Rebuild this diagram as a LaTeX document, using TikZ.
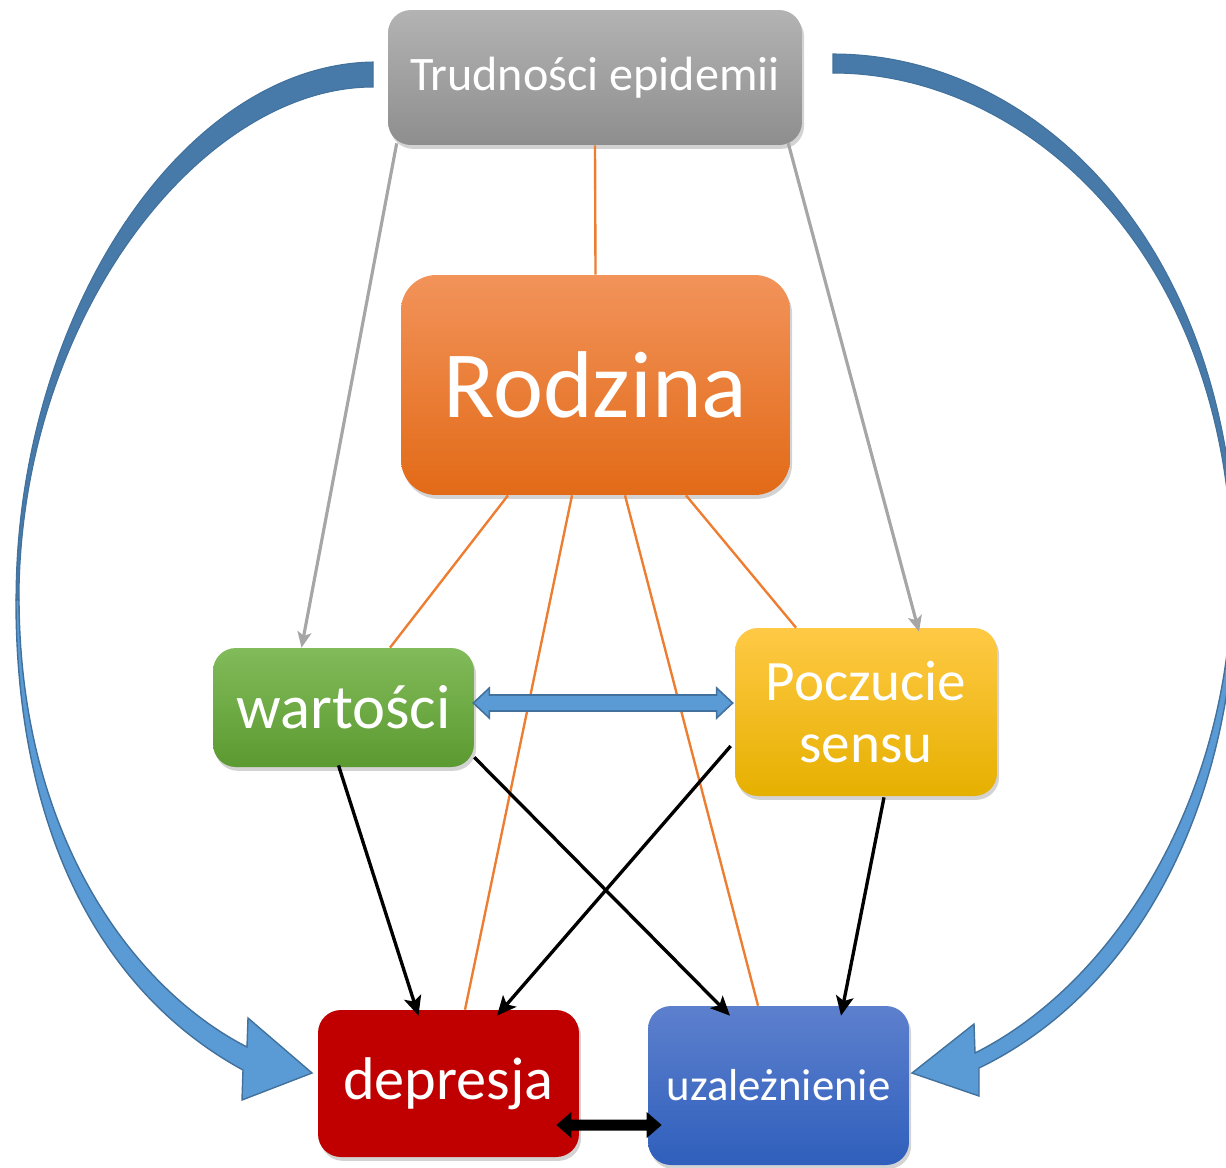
\documentclass[tikz,border=0pt]{standalone}
\usepackage{fontspec}
\setmainfont{Carlito}
\usetikzlibrary{arrows.meta,calc,shadows}
\definecolor{grayTop}{HTML}{B3B3B3}
\definecolor{grayBot}{HTML}{8E8E8E}
\definecolor{orTop}{HTML}{F2935A}
\definecolor{orBot}{HTML}{E26A17}
\definecolor{grTop}{HTML}{82BB5A}
\definecolor{grBot}{HTML}{5B9A30}
\definecolor{yeTop}{HTML}{FFC945}
\definecolor{yeMid}{HTML}{FFC000}
\definecolor{yeBot}{HTML}{E6B000}
\definecolor{redBox}{HTML}{C00000}
\definecolor{blTop}{HTML}{5D80CD}
\definecolor{blBot}{HTML}{2F5FBC}
\definecolor{arrDark}{HTML}{477AA8}
\definecolor{arrLight}{HTML}{5B9BD5}
\definecolor{arrEdge}{HTML}{41719C}
\definecolor{lineOr}{HTML}{ED7D31}
\definecolor{lineGr}{HTML}{A6A6A6}
\begin{document}
\begin{tikzpicture}[x=0.02cm,y=-0.02cm,
  boxbase/.style={rounded corners=13pt, inner sep=0pt, text=white, align=center,
    drop shadow={opacity=0.35, shadow xshift=1.2pt, shadow yshift=-2.2pt}},
  orline/.style={draw=lineOr, line width=1.35pt},
  grarrow/.style={draw=lineGr, line width=1.8pt, -{Stealth[length=9pt,width=8pt,inset=2.2pt]}},
  blkarrow/.style={draw=black, line width=1.9pt, -{Stealth[length=11pt,width=10pt,inset=2.5pt]}},
  bigdark/.style={fill=arrDark, draw=arrEdge, line width=0.6pt},
  biglight/.style={fill=arrLight, draw=arrEdge, line width=0.8pt, line join=miter},
  dblblue/.style={fill=arrLight, draw=arrEdge, line width=0.9pt},
]
\useasboundingbox (0,0) rectangle (1226,1167);

% big curved arrows
\path[bigdark] (373,62) .. controls (180,65) and (16,320) .. (16,600) -- (19,600) .. controls (19,320) and (200,87) .. (373,87) -- cycle;
\path[biglight] (16,600) .. controls (16,855) and (118,1002) .. (243,1070) -- (242,1100) -- (312,1073) -- (248,1018) -- (247,1047) .. controls (132,988) and (20,835) .. (19,600) -- cycle;

\path[bigdark] (833,54) .. controls (1040,54) and (1236,250) .. (1236,575) -- (1232,575) .. controls (1232,260) and (1030,73) .. (833,73) -- cycle;
\path[biglight] (1236,575) .. controls (1236,800) and (1140,990) .. (979,1068) -- (979,1096) -- (912,1073) -- (974,1024) -- (975,1053) .. controls (1120,980) and (1232,790) .. (1232,575) -- cycle;

% nodes
\node[boxbase, top color=grayTop, bottom color=grayBot, minimum width=8.28cm, minimum height=2.70cm,
  font=\fontsize{27.4pt}{32pt}\selectfont] (trud) at (595,77.5) {Trudności epidemii};
\node[boxbase, rounded corners=20pt, top color=orTop, bottom color=orBot, minimum width=7.78cm, minimum height=4.40cm,
  font=\fontsize{54pt}{60pt}\selectfont] (rodz) at (595.5,385) {Rodzina};
\node[boxbase, top color=grTop, bottom color=grBot, minimum width=5.22cm, minimum height=2.38cm,
  font=\fontsize{35.6pt}{40pt}\selectfont] (wart) at (343.5,707.5) {wartości};
\node[boxbase, top color=yeTop, middle color=yeMid, bottom color=yeBot, minimum width=5.24cm, minimum height=3.36cm,
  font=\fontsize{32.5pt}{35.7pt}\selectfont] (pocz) at (866,712) {Poczucie\\sensu};
\node[boxbase, fill=redBox, minimum width=5.22cm, minimum height=2.94cm,
  font=\fontsize{34.3pt}{40pt}\selectfont] (depr) at (448.5,1083.5) {depresja};
\node[boxbase, top color=blTop, bottom color=blBot, minimum width=5.22cm, minimum height=3.18cm,
  font=\fontsize{25.5pt}{30pt}\selectfont] (uzal) at (778.5,1085.5) {uzależnienie};

% orange lines
\draw[orline] (trud.south) -- (rodz.north);
\draw[orline] ($(rodz.south)+(-87.5,0)$) -- ($(wart.north)+(46.5,0)$);
\draw[orline] ($(rodz.south)+(90.5,0)$) -- ($(pocz.north)+(-70,0)$);
\draw[orline] ($(rodz.south)+(-23.5,0)$) -- ($(depr.north)+(16.5,0)$);
\draw[orline] ($(rodz.south)+(29.5,0)$) -- ($(uzal.north)+(-20.5,0)$);

% gray arrows
\draw[grarrow] ($(trud.south west)+(9,-2)$) -- ($(wart.north)+(-42,0)$);
\draw[grarrow] ($(trud.south east)+(-14,-2)$) -- ($(pocz.north)+(53,4)$);

% black arrows
\draw[blkarrow] ($(wart.south)+(-5,-2)$) -- ($(depr.north)+(-30,6)$);
\draw[blkarrow] ($(wart.south east)+(0,-10)$) -- ($(uzal.north)+(-48.5,10)$);
\draw[blkarrow] ($(pocz.west)+(-4,34)$) -- ($(depr.north)+(48.5,6)$);
\draw[blkarrow] ($(pocz.south)+(18,1)$) -- ($(uzal.north)+(62.5,10)$);

% blue double arrow
\coordinate (bl) at ($(wart.east)+(-1,-4.5)$);
\coordinate (br) at ($(pocz.west)+(-2,-9)$);
\path[dblblue] (bl) -- ($(bl)+(16,-15)$) -- ($(bl)+(16,-8)$) -- ($(br)+(-16,-8)$) -- ($(br)+(-16,-15)$) -- (br)
  -- ($(br)+(-16,15)$) -- ($(br)+(-16,8)$) -- ($(bl)+(16,8)$) -- ($(bl)+(16,15)$) -- cycle;

% black double arrow
\coordinate (kl) at ($(depr.east)+(-23,41.5)$);
\coordinate (kr) at ($(uzal.west)+(14,39.5)$);
\fill[black] (kl) -- ($(kl)+(15,-13)$) -- ($(kl)+(15,-5.5)$) -- ($(kr)+(-15,-5.5)$) -- ($(kr)+(-15,-13)$) -- (kr)
  -- ($(kr)+(-15,13)$) -- ($(kr)+(-15,5.5)$) -- ($(kl)+(15,5.5)$) -- ($(kl)+(15,13)$) -- cycle;
\end{tikzpicture}
\end{document}
